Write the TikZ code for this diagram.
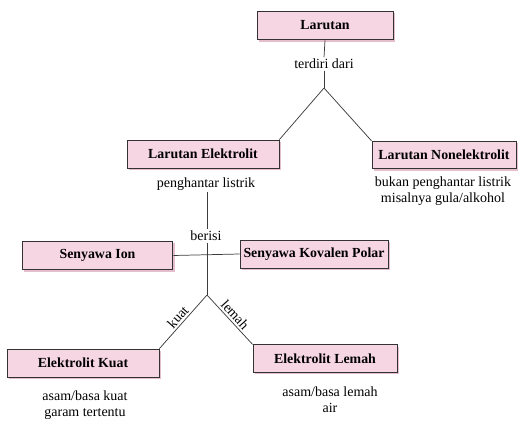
\documentclass[tikz,border=0pt]{standalone}
\usepackage{fontspec}
\setmainfont{Liberation Serif}
\usetikzlibrary{shadows}

\definecolor{boxpink}{RGB}{247,214,227}
\definecolor{shadepink}{RGB}{228,190,205}
\definecolor{linegray}{RGB}{60,60,60}

\tikzset{
  konsep/.style={draw=black!80, line width=0.7pt, fill=boxpink, rectangle,
    inner sep=0pt, font=\fontsize{10.4}{12}\selectfont\bfseries,
    drop shadow={shadow xshift=1.6pt, shadow yshift=-1.6pt, fill=shadepink, opacity=1}},
  ket/.style={inner sep=1pt, align=center, font=\fontsize{10.5}{12}\selectfont},
  garis/.style={draw=linegray, line width=0.55pt}
}

\begin{document}
\begin{tikzpicture}[x=0.75pt,y=0.75pt,yscale=-1,xscale=1]
\useasboundingbox (0,0) rectangle (520,423);

% Boxes
\node[konsep, minimum width=102pt, minimum height=21.5pt] (larutan) at (325,25.5) {Larutan};
\node[konsep, minimum width=114pt, minimum height=21pt] (elektrolit) at (203,154) {Larutan Elektrolit};
\node[konsep, minimum width=108pt, minimum height=20.5pt] (nonelektrolit) at (444,155) {Larutan Nonelektrolit};
\node[konsep, minimum width=113pt, minimum height=21.5pt] (ion) at (97.5,255.5) {Senyawa Ion};
\node[konsep, minimum width=111pt, minimum height=21pt] (kovalen) at (314,254) {Senyawa Kovalen Polar};
\node[konsep, minimum width=114pt, minimum height=21pt] (kuat) at (83,363) {Elektrolit Kuat};
\node[konsep, minimum width=108pt, minimum height=20.5pt] (lemah) at (325,358.5) {Elektrolit Lemah};

% Text Node
\node[ket] (terdiri) at (324,64) {terdiri dari};
\node[ket] (penghantar) at (206,184) {penghantar listrik};
\node[ket] (bukan) at (443,191) {bukan penghantar listrik\\misalnya gula/alkohol};
\node[ket] (berisi) at (206,236) {berisi};
\node[ket] (ketkuat) at (85,405) {asam/basa kuat\\garam tertentu};
\node[ket] (ketlemah) at (330,400) {asam/basa lemah\\air};

% branch points
\coordinate (cabang1) at (324,88);
\coordinate (cabang2) at (207,295);

% Straight Lines
\draw[garis] (larutan.south) -- (terdiri.north);
\draw[garis] (terdiri.south) -- (cabang1);
\draw[garis] (cabang1) -- (elektrolit.north east);
\draw[garis] (cabang1) -- (nonelektrolit.north west);
\draw[garis] (penghantar.south -| cabang2) -- (berisi.north -| cabang2);
\draw[garis] (berisi.south -| cabang2) -- (cabang2);
\draw[garis] (ion.east) -- (kovalen.west);
\draw[garis] (kuat.north east) -- node[pos=0.5, rotate=48, anchor=south, ket, inner sep=1.5pt] (lblkuat) {kuat} (cabang2);
\draw[garis] (cabang2) -- node[pos=0.5, rotate=-48, anchor=south, ket, inner sep=1.5pt] (lbllemah) {lemah} (lemah.north west);

\end{tikzpicture}
\end{document}
